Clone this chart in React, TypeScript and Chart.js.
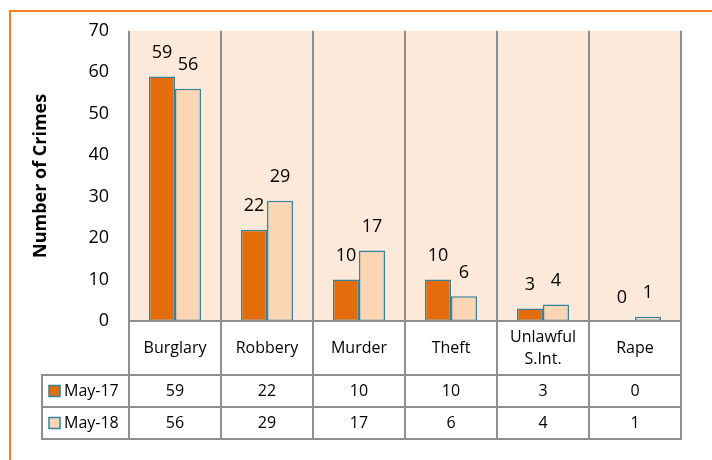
import React, { useEffect, useRef } from 'react';
import { Chart, registerables } from 'chart.js';

Chart.register(...registerables);

const categories: string[][] = [['Burglary'], ['Robbery'], ['Murder'], ['Theft'], ['Unlawful', 'S.Int.'], ['Rape']];
const seriesNames = ['May-17', 'May-18'];
const may17 = [59, 22, 10, 10, 3, 0];
const may18 = [56, 29, 17, 6, 4, 1];
const yMin = 0;
const yMax = 70;
const yStep = 10;
const yTitle = 'Number of Crimes';

const FONT = "'Open Sans', sans-serif";
const GRID = '#8E8E8E';
const TEAL = '#31849B';
const DARK = '#E46C0A';
const LIGHT = '#FCD5B5';
const PLOT_BG = '#FDE9D9';
const FRAME = '#F7801E';

const tablePlugin = {
  id: 'tablePlugin',
  beforeDraw(chart: any) {
    const { ctx, chartArea: a } = chart;
    ctx.save();
    ctx.fillStyle = PLOT_BG;
    ctx.fillRect(a.left, a.top, a.right - a.left, a.bottom - a.top);
    ctx.restore();
  },
  afterDraw(chart: any) {
    const { ctx, chartArea: a } = chart;
    const n = categories.length;
    const w = (a.right - a.left) / n;
    const y0 = a.bottom;
    const y1 = y0 + 54;
    const y2 = y1 + 32;
    const y3 = y2 + 32;
    const legLeft = 42;
    ctx.save();
    ctx.strokeStyle = GRID;
    ctx.lineWidth = 2;
    ctx.beginPath();
    for (let i = 0; i <= n; i++) {
      const xx = Math.round(a.left + i * w);
      ctx.moveTo(xx, a.top);
      ctx.lineTo(xx, y3 + 1);
    }
    ctx.moveTo(a.left, y0);
    ctx.lineTo(a.right + 1, y0);
    ctx.moveTo(legLeft, y1 - 1);
    ctx.lineTo(legLeft, y3 + 1);
    [y1, y2, y3].forEach((yy) => {
      ctx.moveTo(legLeft - 1, yy);
      ctx.lineTo(a.right + 1, yy);
    });
    ctx.stroke();

    // category labels
    ctx.fillStyle = '#000';
    ctx.textAlign = 'center';
    ctx.textBaseline = 'middle';
    ctx.font = `16px ${FONT}`;
    categories.forEach((lines, i) => {
      const cx = a.left + (i + 0.5) * w;
      const cy = (y0 + y1) / 2;
      const lh = 22;
      lines.forEach((t, li) => {
        ctx.fillText(t, cx, cy + (li - (lines.length - 1) / 2) * lh);
      });
    });
    // values rows
    const rows = [may17, may18];
    const fills = [DARK, LIGHT];
    rows.forEach((vals, r) => {
      const cy = (r === 0 ? (y1 + y2) / 2 : (y2 + y3) / 2);
      ctx.textAlign = 'center';
      vals.forEach((v, i) => {
        ctx.fillText(String(v), a.left + (i + 0.5) * w, cy);
      });
      ctx.fillStyle = fills[r];
      ctx.fillRect(49, cy - 5.5, 11, 11);
      ctx.strokeStyle = TEAL;
      ctx.lineWidth = 1.5;
      ctx.strokeRect(49, cy - 5.5, 11, 11);
      ctx.fillStyle = '#000';
      ctx.textAlign = 'left';
      ctx.fillText(seriesNames[r], 64, cy);
    });

    // data labels
    ctx.font = `18px ${FONT}`;
    ctx.textAlign = 'center';
    chart.data.datasets.forEach((ds: any, di: number) => {
      const meta = chart.getDatasetMeta(di);
      meta.data.forEach((bar: any, i: number) => {
        ctx.fillText(String(ds.data[i]), bar.x, bar.y - 23.5);
      });
    });

    // orange frame
    ctx.strokeStyle = FRAME;
    ctx.lineWidth = 2;
    ctx.beginPath();
    ctx.moveTo(10, 470);
    ctx.lineTo(10, 11);
    ctx.lineTo(720, 11);
    ctx.stroke();
    ctx.restore();
  },
};

export default function App() {
  const ref = useRef<HTMLCanvasElement>(null);
  useEffect(() => {
    if (!ref.current) return;
    const chart = new Chart(ref.current, {
      type: 'bar',
      data: {
        labels: categories,
        datasets: [
          {
            label: seriesNames[0],
            data: may17,
            backgroundColor: DARK,
            borderColor: TEAL,
            borderWidth: 1.5,
            borderSkipped: false,
          },
          {
            label: seriesNames[1],
            data: may18,
            backgroundColor: LIGHT,
            borderColor: TEAL,
            borderWidth: 1.5,
            borderSkipped: false,
          },
        ],
      },
      options: {
        animation: false,
        responsive: true,
        maintainAspectRatio: false,
        layout: { padding: { left: 20, top: 24, right: 31, bottom: 139 } },
        plugins: { legend: { display: false }, tooltip: { enabled: false } },
        datasets: { bar: { categoryPercentage: 0.565, barPercentage: 1 } },
        scales: {
          x: {
            ticks: { display: false },
            grid: { display: false, drawTicks: false },
            border: { display: false },
            afterFit: (s: any) => { s.height = 0; },
          },
          y: {
            min: yMin,
            max: yMax,
            ticks: { stepSize: yStep, padding: 20, color: '#000', font: { family: FONT, size: 18 } },
            grid: { display: false, drawTicks: false },
            border: { display: false },
            title: {
              display: true,
              text: yTitle,
              color: '#000',
              font: { family: FONT, size: 18, weight: 'bold' },
              padding: { top: 10, bottom: 0 },
            },
            afterFit: (s: any) => { s.width = 109; },
          },
        },
      },
      plugins: [tablePlugin],
    });
    return () => chart.destroy();
  }, []);
  return (
    <div style={{ position: 'absolute', left: 0, top: 0, width: 712, height: 460, background: '#fff' }}>
      <canvas ref={ref} />
    </div>
  );
}
